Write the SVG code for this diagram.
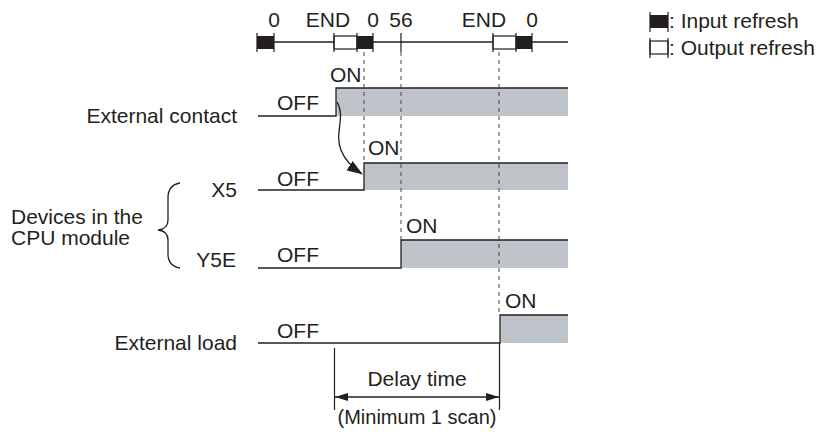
<svg xmlns="http://www.w3.org/2000/svg" width="824" height="432" viewBox="0 0 824 432">
<defs>
<style>
text{font-family:"Liberation Sans",Arial,sans-serif;font-size:21px;fill:#231f20}
.r{text-anchor:end}
.m{text-anchor:middle}
.s{font-size:20px}
.ln{stroke:#231f20;stroke-width:1.3;fill:none}
.tk{stroke:#231f20;stroke-width:1.2}
.blk{fill:#231f20}
.gr{fill:#bfc3ca}
.dash{stroke:#444;stroke-width:1;stroke-dasharray:4 4;fill:none}
</style>
<marker id="ah" viewBox="0 0 16 11" refX="15" refY="5.5" markerWidth="16" markerHeight="11" markerUnits="userSpaceOnUse" orient="auto">
<path d="M0,0 L16,5.5 L0,11 Z" fill="#231f20"/>
</marker>
<marker id="ad" viewBox="0 0 13 8" refX="13" refY="4" markerWidth="13" markerHeight="8" markerUnits="userSpaceOnUse" orient="auto-start-reverse">
<path d="M0,0 L13,4 L0,8 Z" fill="#231f20"/>
</marker>
</defs>
<rect width="824" height="432" fill="#fff"/>

<g id="timeline">
<line class="ln" x1="257" y1="42" x2="568" y2="42"/>
<rect class="blk" x="257" y="36" width="17" height="13"/>
<rect x="334" y="36" width="23" height="13" fill="#fff" stroke="#231f20" stroke-width="1.2"/>
<rect class="blk" x="357" y="36" width="16" height="13"/>
<rect x="493" y="36" width="23" height="13" fill="#fff" stroke="#231f20" stroke-width="1.2"/>
<rect class="blk" x="516" y="36" width="16" height="13"/>
<path class="tk" d="M257,33V52M274,33V52M334,33V52M357,33V52M373,33V52M401,33V52M493,33V52M516,33V52M532,33V52"/>
<text class="m" x="274" y="27">0</text>
<text class="m" x="328" y="27">END</text>
<text class="m" x="373" y="27">0</text>
<text class="m" x="401" y="27">56</text>
<text class="m" x="484" y="27">END</text>
<text class="m" x="532" y="27">0</text>
</g>

<g id="legend">
<rect class="blk" x="650" y="15" width="18" height="13"/>
<path class="tk" d="M650,12V32M668,12V32"/>
<text x="669" y="28">: Input refresh</text>
<rect x="650" y="41" width="18" height="13" fill="#fff" stroke="#231f20" stroke-width="1.2"/>
<path class="tk" d="M650,38V58M668,38V58"/>
<text x="669" y="55">: Output refresh</text>
</g>

<g id="external-contact">
<rect class="gr" x="336" y="88" width="232" height="28"/>
<path class="ln" d="M258,116H336V88H568"/>
<text class="r" x="237" y="123">External contact</text>
<text x="277" y="110">OFF</text>
<text x="330" y="82">ON</text>
</g>

<g id="x5">
<rect class="gr" x="364" y="163" width="204" height="27"/>
<path class="ln" d="M258,190H364V163H568"/>
<text class="r" x="237" y="197">X5</text>
<text x="277" y="186">OFF</text>
<text x="368" y="155">ON</text>
</g>

<g id="y5e">
<rect class="gr" x="401" y="240" width="167" height="28"/>
<path class="ln" d="M258,268H401V240H568"/>
<text class="r" x="236" y="267">Y5E</text>
<text x="277" y="262">OFF</text>
<text x="406" y="233">ON</text>
</g>

<g id="external-load">
<rect class="gr" x="500" y="315" width="68" height="28"/>
<path class="ln" d="M258,343H500V315H568"/>
<text class="r" x="237" y="350">External load</text>
<text x="277" y="338">OFF</text>
<text x="505" y="308">ON</text>
</g>

<g id="devices">
<text x="11" y="224">Devices in the</text>
<text x="11" y="245">CPU module</text>
<path class="ln" stroke-width="1" d="M180,183Q168,185 168,198V220Q168,229 158,230Q168,231 168,240V254Q168,266 180,268"/>
</g>

<g id="connectors">
<path class="dash" d="M364,52V163M401,52V240M499,52V315"/>
<path class="ln" stroke-width="1" d="M337,102C346,116 334,134 341,150C344,158 350,166 362,174" marker-end="url(#ah)"/>
<path class="tk" d="M334.5,348V410M499.5,343V410"/>
<line class="ln" stroke-width="1.2" x1="335" y1="397" x2="499" y2="397" marker-start="url(#ad)" marker-end="url(#ad)"/>
<text class="m" x="417" y="386">Delay time</text>
<text class="m s" x="417" y="424">(Minimum 1 scan)</text>
</g>
</svg>
